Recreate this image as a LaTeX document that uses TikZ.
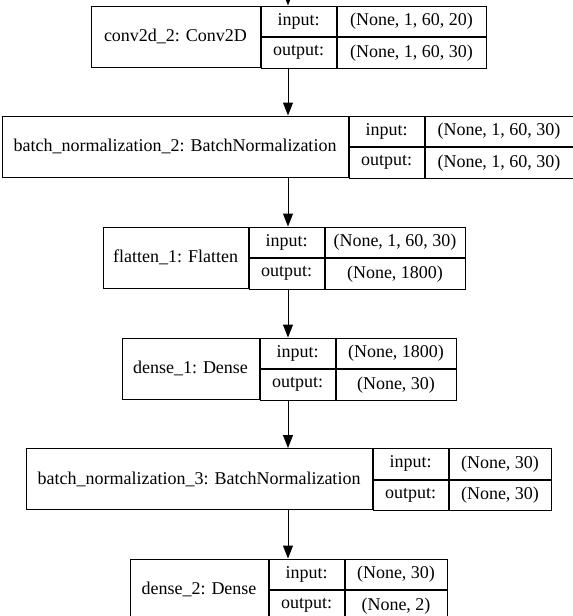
\documentclass[tikz,border=0pt]{standalone}
\usepackage{fontspec}
\setmainfont{Liberation Serif}
\usetikzlibrary{arrows.meta, positioning}

\begin{document}
\begin{tikzpicture}[
    x=1pt, y=-1pt,
    font=\fontsize{18}{22}\selectfont,
    every node/.style={draw, line width=1pt, inner sep=0pt},
    namecell/.style={minimum height=61pt},
    iocell/.style={minimum width=75pt, minimum height=30.5pt},
    shapecell/.style={minimum height=30.5pt},
    flow/.style={-{Triangle[length=13pt, width=10pt]}, line width=1pt}
  ]
  \useasboundingbox (0,0) rectangle (573,616);
  \clip (0,0) rectangle (573,616);
  \coordinate (axis) at (288,0);
  \coordinate (feed) at (288,-30);

  % conv2d_2
  \node[namecell, minimum width=169pt] (conv) at (175.5,36.5) {conv2d\_2: Conv2D};
  \node[iocell, anchor=north west] (conv-in) at (conv.north east) {input:};
  \node[iocell, anchor=north west] (conv-out) at (conv-in.south west) {output:};
  \node[shapecell, minimum width=149pt, anchor=north west] (conv-in-s) at (conv-in.north east) {(None, 1, 60, 20)};
  \node[shapecell, minimum width=149pt, anchor=north west] (conv-out-s) at (conv-out.north east) {(None, 1, 60, 30)};

  % batch_normalization_2
  \node[namecell, minimum width=346pt] (bn2) at (175,146.5) {batch\_normalization\_2: BatchNormalization};
  \node[iocell, anchor=north west] (bn2-in) at (bn2.north east) {input:};
  \node[iocell, anchor=north west] (bn2-out) at (bn2-in.south west) {output:};
  \node[shapecell, minimum width=148pt, anchor=north west] (bn2-in-s) at (bn2-in.north east) {(None, 1, 60, 30)};
  \node[shapecell, minimum width=148pt, anchor=north west] (bn2-out-s) at (bn2-out.north east) {(None, 1, 60, 30)};

  % flatten_1
  \node[namecell, minimum width=145pt] (flat) at (175.5,257.5) {flatten\_1: Flatten};
  \node[iocell, anchor=north west] (flat-in) at (flat.north east) {input:};
  \node[iocell, anchor=north west] (flat-out) at (flat-in.south west) {output:};
  \node[shapecell, minimum width=140pt, anchor=north west] (flat-in-s) at (flat-in.north east) {(None, 1, 60, 30)};
  \node[shapecell, minimum width=140pt, anchor=north west] (flat-out-s) at (flat-out.north east) {(None, 1800)};

  % dense_1
  \node[namecell, minimum width=137pt] (dense1) at (190.5,368.5) {dense\_1: Dense};
  \node[iocell, anchor=north west] (dense1-in) at (dense1.north east) {input:};
  \node[iocell, anchor=north west] (dense1-out) at (dense1-in.south west) {output:};
  \node[shapecell, minimum width=120pt, anchor=north west] (dense1-in-s) at (dense1-in.north east) {(None, 1800)};
  \node[shapecell, minimum width=120pt, anchor=north west] (dense1-out-s) at (dense1-out.north east) {(None, 30)};

  % batch_normalization_3
  \node[namecell, minimum width=346pt] (bn3) at (199,479) {batch\_normalization\_3: BatchNormalization};
  \node[iocell, anchor=north west] (bn3-in) at (bn3.north east) {input:};
  \node[iocell, anchor=north west] (bn3-out) at (bn3-in.south west) {output:};
  \node[shapecell, minimum width=102pt, anchor=north west] (bn3-in-s) at (bn3-in.north east) {(None, 30)};
  \node[shapecell, minimum width=102pt, anchor=north west] (bn3-out-s) at (bn3-out.north east) {(None, 30)};

  % dense_2
  \node[namecell, minimum width=138pt] (dense2) at (199,589.5) {dense\_2: Dense};
  \node[iocell, anchor=north west] (dense2-in) at (dense2.north east) {input:};
  \node[iocell, anchor=north west] (dense2-out) at (dense2-in.south west) {output:};
  \node[shapecell, minimum width=102pt, anchor=north west] (dense2-in-s) at (dense2-in.north east) {(None, 30)};
  \node[shapecell, minimum width=102pt, anchor=north west] (dense2-out-s) at (dense2-out.north east) {(None, 2)};

  \draw[flow] (feed) -- (conv.north -| axis);
  \draw[flow] (conv.south -| axis) -- (bn2.north -| axis);
  \draw[flow] (bn2.south -| axis) -- (flat.north -| axis);
  \draw[flow] (flat.south -| axis) -- (dense1.north -| axis);
  \draw[flow] (dense1.south -| axis) -- (bn3.north -| axis);
  \draw[flow] (bn3.south -| axis) -- (dense2.north -| axis);
\end{tikzpicture}
\end{document}
